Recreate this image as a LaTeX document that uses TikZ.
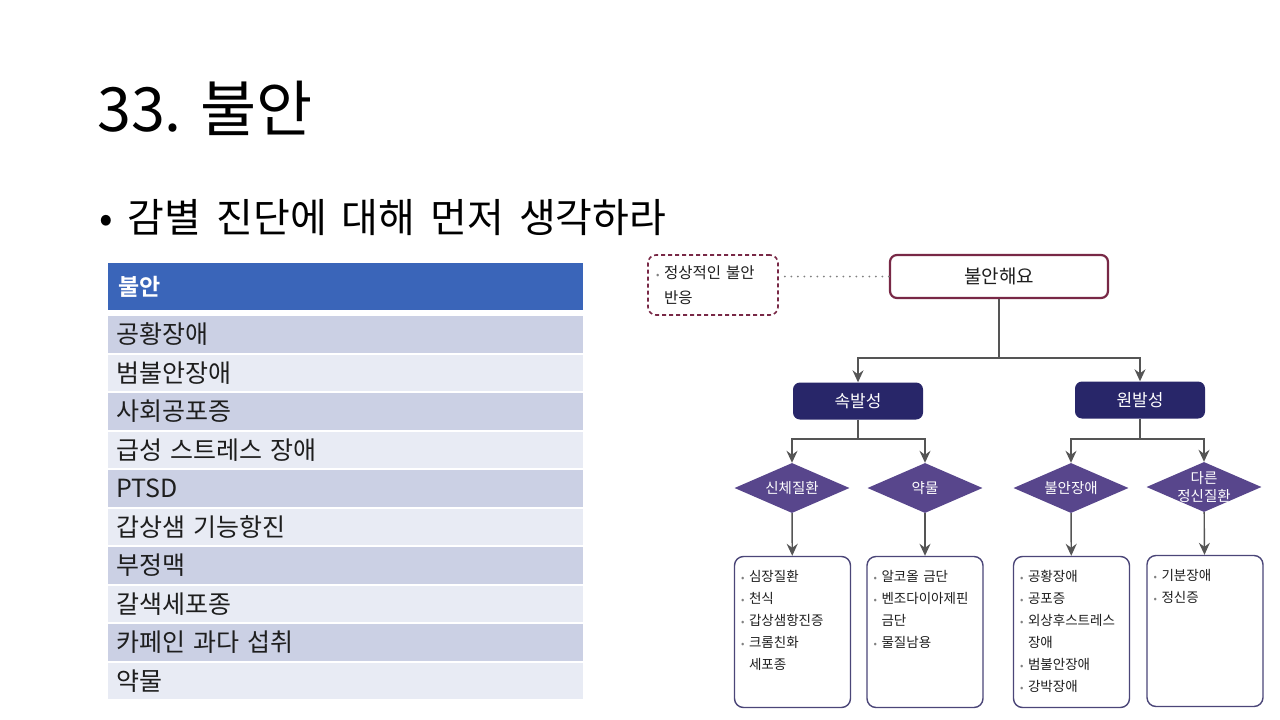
\documentclass[tikz,border=0pt]{standalone}
\usepackage{fontspec}
\setmainfont{Noto Sans CJK KR}[BoldFont={Noto Sans CJK KR Bold}]
\usepackage{xcolor}
\usepackage{tikz}
\usetikzlibrary{shapes.geometric, arrows.meta, positioning, calc}
\definecolor{headerblue}{RGB}{58, 101, 185}
\definecolor{rowdark}{RGB}{203, 208, 228}
\definecolor{rowlight}{RGB}{232, 235, 244}
\definecolor{maroon}{RGB}{120, 40, 70}
\definecolor{navy}{RGB}{40, 38, 105}
\definecolor{diapurple}{RGB}{88, 70, 140}
\definecolor{boxline}{RGB}{75, 70, 120}
\definecolor{arrowgray}{RGB}{85, 85, 85}
\definecolor{textdark}{RGB}{30, 30, 30}
\newcommand{\listdot}{\makebox[8pt][l]{\textcolor{gray}{\fontsize{10}{10}\selectfont •}}}
\newcommand{\listgap}{\hspace*{8pt}}
\tikzstyle{headcell} = [rectangle, anchor=north west, minimum width=475pt, minimum height=47pt, text width=455pt, inner xsep=10pt, align=left, fill=headerblue, text=white, font=\fontsize{23}{26}\selectfont\bfseries]
\tikzstyle{cell} = [rectangle, anchor=north west, minimum width=475pt, minimum height=36.5pt, text width=459pt, inner xsep=8pt, align=left, text=textdark, font=\fontsize{25}{28}\selectfont]
\tikzstyle{dashbox} = [rectangle, rounded corners=8pt, draw=maroon, line width=1.6pt, dash pattern=on 4pt off 3pt, minimum width=130pt, minimum height=60pt, text width=114pt, align=left, text=textdark, font=\fontsize{15.5}{25}\selectfont]
\tikzstyle{startbox} = [rectangle, rounded corners=7pt, draw=maroon, line width=2.2pt, minimum width=218pt, minimum height=43pt, text=textdark, font=\fontsize{19}{22}\selectfont]
\tikzstyle{cause} = [rectangle, rounded corners=7pt, fill=navy, minimum width=130pt, minimum height=37pt, text=white, font=\fontsize{17}{20}\selectfont]
\tikzstyle{choice} = [diamond, aspect=2.3, minimum width=115pt, minimum height=50pt, inner sep=0pt, fill=diapurple]
\tikzstyle{choicetext} = [text=white, align=center, font=\fontsize{14.5}{18}\selectfont]
\tikzstyle{listbox} = [rectangle, rounded corners=9pt, draw=boxline, line width=1.4pt, minimum width=116pt, minimum height=151pt]
\tikzstyle{listtext} = [anchor=north west, inner sep=0pt, text width=112pt, align=left, text=textdark, font=\fontsize{13.5}{22}\selectfont]
\tikzstyle{line} = [draw=arrowgray, line width=1.4pt]
\tikzstyle{arrow} = [draw=arrowgray, line width=1.4pt, -{Stealth[length=12pt, width=11pt, inset=4pt]}]
\tikzstyle{dotline} = [draw=gray, line width=2pt, line cap=round, dash pattern=on 0pt off 6.5pt]

\begin{document}
\begin{tikzpicture}[x=1pt, y=-1pt]
    \fill[white] (0,0) rectangle (1280,720);
    \useasboundingbox (0,0) rectangle (1280,720);

    % Title
    \node[anchor=base west, inner sep=0pt, text=black, font=\fontsize{61}{64}\selectfont] (title) at (97,131) {33. 불안};
    \node[anchor=base west, inner sep=0pt, text=black, font=\fontsize{40}{44}\selectfont] (intro) at (99,232) {\spaceskip=15pt • 감별 진단에 대해 먼저 생각하라};

    % Table
    \node[headcell] (head) at (108,263) {불안};
    \foreach \txt [count=\i] in {공황장애, 범불안장애, 사회공포증, 급성 스트레스 장애, PTSD, 갑상샘 기능항진, 부정맥, 갈색세포종, 카페인 과다 섭취, 약물} {
        \ifodd\i \def\rowfill{rowdark}\else \def\rowfill{rowlight}\fi
        \node[cell, fill=\rowfill] (row\i) at (108, {316 + (\i-1)*38.5}) {\txt};
    }

    % Top
    \node[dashbox] (normal) at (713,285) {\listdot 정상적인 불안\\\listgap 반응};
    \node[startbox] (anx) at (999,276.5) {불안해요};
    \coordinate (split) at (999,358);

    % Onset
    \node[cause] (sec) at (858,401) {속발성};
    \node[cause] (pri) at (1140,400) {원발성};
    \coordinate (secsplit) at (858,439);
    \coordinate (prisplit) at (1140,439);

    % Causes
    \node[choice, label={[choicetext]center:신체질환}] (body) at (792,488) {};
    \node[choice, label={[choicetext]center:약물}] (drug) at (925,488) {};
    \node[choice, label={[choicetext]center:불안장애}] (anxdis) at (1071,488) {};
    \node[choice, label={[choicetext]center:{다른\\정신질환}}] (psych) at (1204,487) {};

    % Lists
    \node[listbox] (bodylist) at (792.5,632) {};
    \node[listbox] (druglist) at (925,632) {};
    \node[listbox] (anxlist) at (1071.5,632) {};
    \node[listbox] (psychlist) at (1205,631) {};
    \node[listtext, below right=14pt and 7pt of bodylist.north west] (bodyitems) {\listdot 심장질환\\\listdot 천식\\\listdot 갑상샘항진증\\\listdot 크롬친화\\\listgap 세포종};
    \node[listtext, below right=14pt and 7pt of druglist.north west] (drugitems) {\listdot 알코올 금단\\\listdot 벤조다이아제핀\\\listgap 금단\\\listdot 물질남용};
    \node[listtext, below right=14pt and 7pt of anxlist.north west] (anxitems) {\listdot 공황장애\\\listdot 공포증\\\listdot 외상후스트레스\\\listgap 장애\\\listdot 범불안장애\\\listdot 강박장애};
    \node[listtext, below right=14pt and 7pt of psychlist.north west] (psychitems) {\listdot 기분장애\\\listdot 정신증};

    % Connectors
    \draw[dotline] (anx.west) -- (anx.west -| normal.east);
    \draw[line] (anx) -- (split);
    \draw[arrow] (split) -| (sec);
    \draw[arrow] (split) -| (pri);
    \draw[line] (sec) -- (secsplit);
    \draw[arrow] (secsplit) -| (body);
    \draw[arrow] (secsplit) -| (drug);
    \draw[line] (pri) -- (prisplit);
    \draw[arrow] (prisplit) -| (anxdis);
    \draw[arrow] (prisplit) -| (psych);
    \draw[arrow] (body) -- (bodylist);
    \draw[arrow] (drug) -- (druglist);
    \draw[arrow] (anxdis) -- (anxlist);
    \draw[arrow] (psych) -- (psychlist);
\end{tikzpicture}
\end{document}
